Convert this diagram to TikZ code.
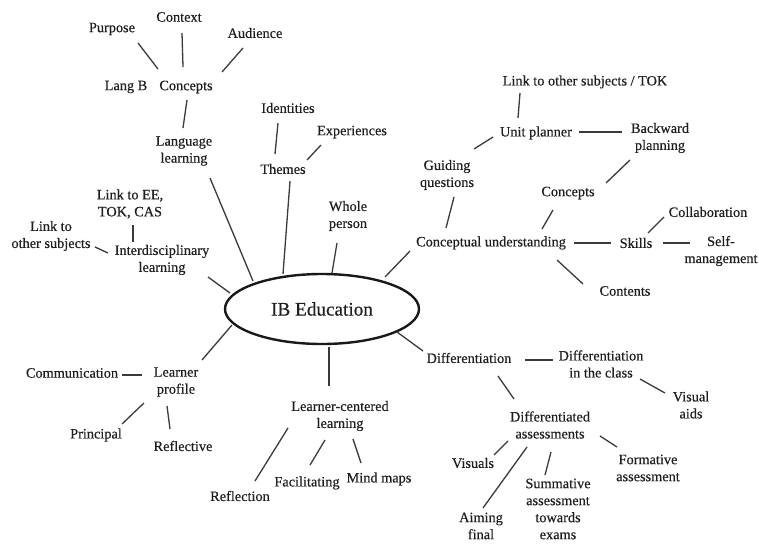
\documentclass[tikz,border=0pt]{standalone}
\usepackage{fontspec}
\setmainfont{Liberation Serif}[FakeBold=0.35]
\usetikzlibrary{shapes.geometric,calc}
\definecolor{txtc}{HTML}{1E1E1E}
\definecolor{linec}{HTML}{3A3A3A}
\newcommand\lnk[4]{\draw[conn] ($(#1)+(#2)$) -- ($(#3)+(#4)$);}
\begin{document}
\begin{tikzpicture}[x=1pt,y=-1pt,
  lbl/.style={inner sep=0pt, align=center, font=\fontsize{14.3}{17}\selectfont, text=txtc},
  conn/.style={draw=linec, line width=1.3pt}]
\fill[white] (0,0) rectangle (759,543);
\useasboundingbox (0,0) rectangle (759,543);
% centre
\node[draw=black!90, line width=2.4pt, ellipse, minimum width=194pt, minimum height=70pt, inner sep=0pt,
  font=\fontsize{19.2}{22}\selectfont, text=txtc] (ib) at (322,309) {IB Education};
% language branch
\node[lbl] (purpose) at (112,29) {Purpose};
\node[lbl] (context) at (179,17) {Context};
\node[lbl] (audience) at (255,33) {Audience};
\node[lbl] (langb) at (126,87) {Lang B};
\node[lbl] (concepts) at (186,87) {Concepts};
\node[lbl] (language) at (184,151) {Language\\learning};
% themes
\node[lbl] (identities) at (288,108) {Identities};
\node[lbl] (experiences) at (352,132) {Experiences};
\node[lbl] (themes) at (283,169) {Themes};
\node[lbl] (whole) at (348,216) {Whole\\person};
% interdisciplinary
\node[lbl] (linkee) at (130,204) {Link to EE,\\TOK, CAS};
\node[lbl] (linkother) at (51,236) {Link to\\other subjects};
\node[lbl] (inter) at (162,260) {Interdisciplinary\\learning};
% conceptual understanding
\node[lbl] (conceptual) at (491,243) {Conceptual understanding};
\node[lbl] (guiding) at (447,175) {Guiding\\questions};
\node[lbl] (unit) at (536,133) {Unit planner};
\node[lbl] (linktok) at (585,82) {Link to other subjects / TOK};
\node[lbl] (backward) at (660,138) {Backward\\planning};
\node[lbl] (concepts2) at (568,193) {Concepts};
\node[lbl] (skills) at (636,243) {Skills};
\node[lbl] (collab) at (708,212) {Collaboration};
\node[lbl] (selfm) at (721,251) {Self-\\management};
\node[lbl] (contents) at (625,291) {Contents};
% learner profile
\node[lbl] (learner) at (176,382) {Learner\\profile};
\node[lbl] (comm) at (72,373) {Communication};
\node[lbl] (principal) at (96,435) {Principal};
\node[lbl] (reflective) at (183,446) {Reflective};
% learner-centered
\node[lbl] (lcl) at (340,416) {Learner-centered\\learning};
\node[lbl] (reflection) at (240,496) {Reflection};
\node[lbl] (facilitating) at (307,483) {Facilitating};
\node[lbl] (mindmaps) at (379,479) {Mind maps};
% differentiation
\node[lbl] (diff) at (469,358) {Differentiation};
\node[lbl] (ditc) at (601,364) {Differentiation\\in the class};
\node[lbl] (visualaids) at (691,405) {Visual\\aids};
\node[lbl] (da) at (550,425) {Differentiated\\assessments};
\node[lbl] (visuals) at (473,463) {Visuals};
\node[lbl] (aiming) at (481,526) {Aiming\\final};
\node[lbl] (summative) at (558,509) {Summative\\assessment\\towards\\exams};
\node[lbl] (formative) at (648,468) {Formative\\assessment};
% connectors
\lnk{purpose}{26,14}{concepts}{-28,-18}
\lnk{context}{3,16}{concepts}{-3,-20}
\lnk{audience}{-12,15}{concepts}{36,-15}
\lnk{concepts}{1,13}{language}{-1,-23}
\lnk{language}{26,27}{ib}{-69,-28}
\lnk{identities}{-10,15}{themes}{-8,-15}
\lnk{experiences}{-31,13}{themes}{24,-9}
\lnk{themes}{7,12}{ib}{-39,-35}
\lnk{whole}{-11,27}{ib}{10,-36}
\lnk{conceptual}{-81,8}{ib}{63,-32}
\lnk{guiding}{7,22}{conceptual}{-45,-15}
\lnk{guiding}{27,-26}{unit}{-43,4}
\lnk{linktok}{-65,11}{unit}{-18,-15}
\lnk{unit}{43,-1}{backward}{-38,-6}
\lnk{backward}{-30,22}{concepts2}{38,-10}
\lnk{concepts2}{-15,17}{conceptual}{51,-14}
\lnk{conceptual}{83,0}{skills}{-25,0}
\lnk{skills}{12,-10}{collab}{-44,5}
\lnk{skills}{27,0}{selfm}{-31,-8}
\lnk{conceptual}{66,17}{contents}{-42,-7}
\lnk{linkee}{3,21}{inter}{-29,-18}
\lnk{linkother}{44,11}{inter}{-54,-7}
\lnk{inter}{46,17}{ib}{-92,-16}
\lnk{ib}{-90,16}{learner}{26,-22}
\lnk{comm}{50,2}{learner}{-34,-7}
\lnk{learner}{-32,21}{principal}{26,-11}
\lnk{learner}{-9,24}{reflective}{-13,-17}
\lnk{ib}{7,38}{lcl}{-11,-30}
\lnk{lcl}{-52,12}{reflection}{15,-15}
\lnk{lcl}{-15,24}{facilitating}{3,-18}
\lnk{lcl}{13,23}{mindmaps}{-18,-16}
\lnk{ib}{75,23}{diff}{-46,-7}
\lnk{diff}{56,2}{ditc}{-48,-4}
\lnk{ditc}{39,15}{visualaids}{-26,-12}
\lnk{diff}{29,18}{da}{-36,-26}
\lnk{da}{-42,16}{visuals}{21,-8}
\lnk{da}{-23,22}{aiming}{2,-18}
\lnk{da}{1,27}{summative}{-13,-34}
\lnk{da}{50,11}{formative}{-31,-21}
\end{tikzpicture}
\end{document}
